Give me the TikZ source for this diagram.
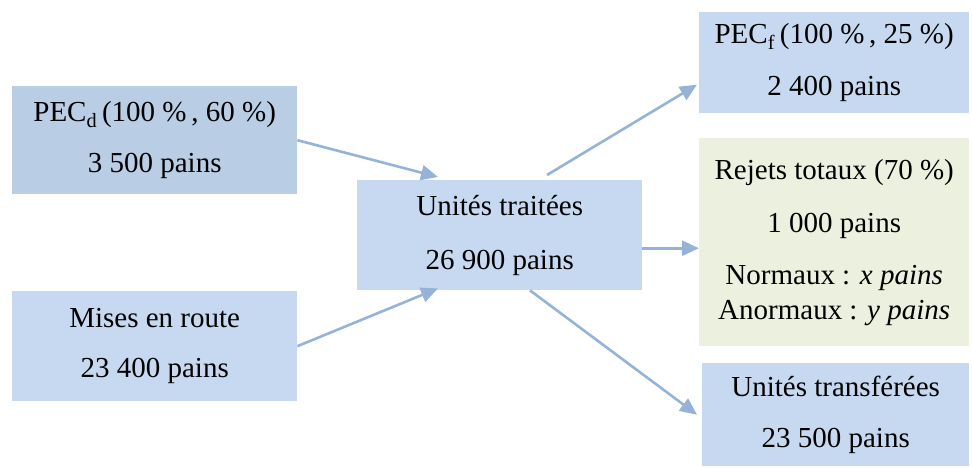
\documentclass[tikz,border=0pt]{standalone}
\usepackage{fontspec}
\setmainfont{Liberation Serif}
\usetikzlibrary{arrows.meta}
\definecolor{boxblue}{HTML}{C6D9F1}
\definecolor{boxdark}{HTML}{B9CDE5}
\definecolor{boxgreen}{HTML}{EBF1DE}
\definecolor{arrowblue}{HTML}{95B3D7}
\begin{document}
\begin{tikzpicture}[x=1pt,y=-1pt,
  flowbox/.style={rectangle, fill=boxblue, draw=none, inner sep=0pt,
    anchor=north west, align=center,
    font=\fontsize{29}{35}\selectfont},
  flowarrow/.style={draw=arrowblue, line width=2.6pt,
    -{Triangle[length=17pt,width=15pt]}}]
\useasboundingbox (0,0) rectangle (972,468);

% sources on the left
\node[flowbox, fill=boxdark, minimum width=285pt, minimum height=108pt]
  (pecd) at (12,86) {PEC\textsubscript{d}\,(100~\%\,, 60~\%)\\[16pt]3~500 pains};
\node[flowbox, minimum width=285pt, minimum height=110pt]
  (mises) at (12,291) {Mises en route\\[15pt]23~400 pains};

% central block
\node[flowbox, minimum width=285pt, minimum height=110pt]
  (ut) at (357,180) {Unités traitées\\[19pt]26~900 pains};

% outputs on the right
\node[flowbox, minimum width=270pt, minimum height=101pt]
  (pecf) at (699,12) {PEC\textsubscript{f}\,(100~\%\,, 25~\%)\\[17pt]2~400 pains};
\node[flowbox, fill=boxgreen, minimum width=270pt, minimum height=208pt]
  (rejets) at (699,138) {Rejets totaux (70~\%)\\[18pt]1~000 pains\\[17pt]Normaux : \textit{x pains}\\Anormaux : \textit{y pains}};
\node[flowbox, minimum width=267pt, minimum height=103pt]
  (utr) at (702,363) {Unités transférées\\[16pt]23~500 pains};

% flows
\draw[flowarrow] (pecd.east) -- ([xshift=81pt,yshift=3pt]ut.north west);
\draw[flowarrow] (mises.east) -- ([xshift=81pt,yshift=2pt]ut.south west);
\draw[flowarrow] ([xshift=190pt,yshift=5pt]ut.north west) -- ([xshift=-2pt,yshift=-22pt]pecf.west);
\coordinate (outmid) at ([yshift=-13pt]ut.east);
\draw[flowarrow] (outmid) -- (outmid -| rejets.west);
\draw[flowarrow] ([xshift=173pt]ut.south west) -- ([xshift=-5pt]utr.west);
\end{tikzpicture}
\end{document}
